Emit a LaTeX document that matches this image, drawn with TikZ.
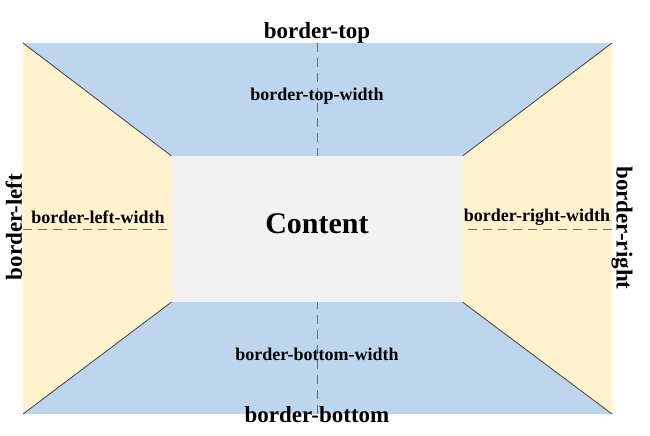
\documentclass[tikz,border=0pt]{standalone}
\usepackage{fontspec}
\setmainfont{Liberation Serif}
\usetikzlibrary{positioning,backgrounds}
\definecolor{bordblue}{RGB}{189,214,238}
\definecolor{bordyellow}{RGB}{255,242,204}
\definecolor{contgrey}{RGB}{242,242,242}
\definecolor{guidegrey}{RGB}{110,110,110}

\begin{document}
\begin{tikzpicture}[x=1pt,y=-1pt,
  lbl/.style={font=\bfseries\fontsize{18}{20}\selectfont,inner sep=0pt},
  side/.style={font=\bfseries\fontsize{23}{25}\selectfont,inner sep=0pt},
  guide/.style={guidegrey,dash pattern=on 9pt off 6pt,line width=1pt},
  edge/.style={draw=black!75,line width=0.8pt}]
\useasboundingbox (0,0) rectangle (650,436);
\coordinate (otl) at (23,43);
\coordinate (otr) at (612,43);
\coordinate (obr) at (612,414);
\coordinate (obl) at (23,414);
\coordinate (mtop) at (317,43);
\coordinate (mbot) at (317,414);
\coordinate (mleft) at (23,229);
\coordinate (mright) at (612,229);
\node[fill=contgrey,minimum width=291pt,minimum height=146pt,inner sep=0pt,
      font=\bfseries\fontsize{30}{32}\selectfont] (content) at (317,229) {\raisebox{10pt}{Content}};
\begin{scope}[on background layer]
\fill[bordyellow] (otl) rectangle (obr);
\fill[bordblue] (otl) -- (otr) -- (content.north east) -- (content.center) -- (content.north west) -- cycle;
\fill[bordblue] (obl) -- (obr) -- (content.south east) -- (content.center) -- (content.south west) -- cycle;
\end{scope}
\draw[edge] (otl) -- (content.north west); \draw[edge] (otr) -- (content.north east);
\draw[edge] (obl) -- (content.south west); \draw[edge] (obr) -- (content.south east);
\draw[guide] (mtop) -- (content.north); \draw[guide] (mbot) -- (content.south);
\draw[guide] (mleft) -- (content.west); \draw[guide] (mright) -- (content.east);
\node[side] (top) at (317,33) {border-top};
\node[lbl] (topw) at (317,96) {border-top-width};
\node[lbl] (botw) at (317,354) {border-bottom-width};
\node[side] (bot) at (317,415) {border-bottom};
\node[lbl] (leftw) at (98,217) {border-left-width};
\node[lbl] (rightw) at (537,217) {border-right-width};
\node[side,rotate=90] (left) at (14,227) {border-left};
\node[side,rotate=-90] (right) at (622,228) {border-right};
\end{tikzpicture}
\end{document}
